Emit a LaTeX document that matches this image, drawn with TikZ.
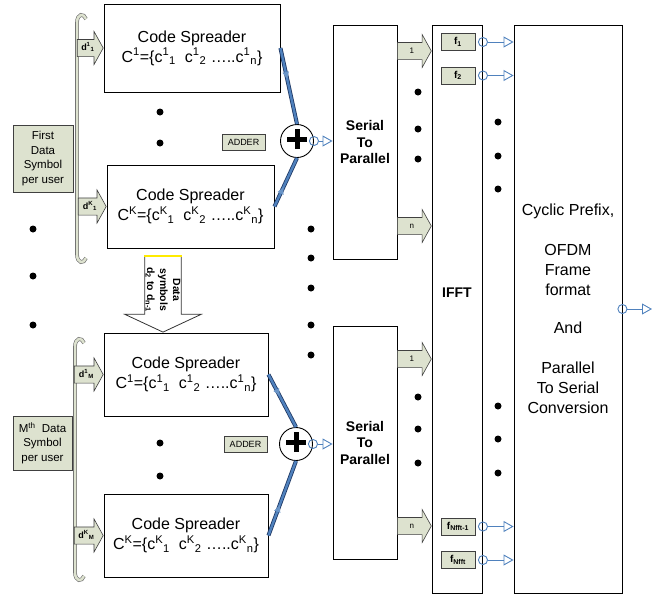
\documentclass[tikz,border=0pt]{standalone}
\usepackage{fontspec}
\setmainfont{Liberation Sans}
\usepackage{xcolor}
\usetikzlibrary{shapes.arrows,arrows.meta,decorations.markings}

\definecolor{tagfill}{RGB}{221,226,207}
\definecolor{linkblue}{RGB}{79,129,189}
\definecolor{linkedge}{RGB}{31,56,100}
\definecolor{rimyellow}{RGB}{255,235,0}

\newcommand\chip[2]{c\textsuperscript{#1}\textsubscript{#2}}

\tikzset{
  spreader/.style={draw, line width=0.9pt, fill=white, align=center,
    font=\fontsize{16}{20}\selectfont},
  tagbox/.style={draw=black!75, fill=tagfill, line width=0.7pt, align=center, inner sep=1pt},
  fatarrow/.style={single arrow, draw=black!75, fill=tagfill, line width=0.6pt,
    single arrow head extend=8pt, single arrow tip angle=122,
    text height=8pt, text depth=2.5pt, inner ysep=3pt, inner xsep=2pt,
    font=\fontsize{8}{9}\selectfont},
  dlabel/.style={font=\bfseries\fontsize{9}{10}\selectfont},
  blob/.style={circle, fill, inner sep=0pt, minimum size=7pt},
  adder/.style={circle, draw, fill=white, line width=0.9pt, minimum size=33pt, inner sep=0pt,
    path picture={\draw[line width=5pt]
      ([xshift=-10pt,yshift=2pt]path picture bounding box.center) -- ([xshift=10pt,yshift=2pt]path picture bounding box.center)
      ([yshift=-8pt]path picture bounding box.center) -- ([yshift=12pt]path picture bounding box.center);}},
  sumlink/.style={draw=linkedge, line width=0.8pt, double=linkblue, double distance=2.4pt,
    postaction={decorate, decoration={markings,
      mark=at position 0.42 with {\arrow[linkblue!85!white]{Latex[length=8pt,width=7pt]}}}}},
  sigout/.style={linkblue, line width=0.9pt, shorten <=-5pt,
    {Circle[open,length=10pt,width=10pt]}-{Triangle[open,length=10pt,width=11pt]}},
  brace/.style={draw=black!60, line width=0.6pt, double=tagfill, double distance=2.5pt},
  bigbox/.style={draw, line width=0.9pt, align=center}
}

\begin{document}
\begin{tikzpicture}[x=1pt, y=-1pt]
  \useasboundingbox (0,0) rectangle (667,595);

  \node[spreader, minimum width=176pt, minimum height=88pt] (cs1) at (192,48)
    {Code Spreader\\C\textsuperscript{1}=\{\chip{1}{1}\ \ \chip{1}{2} …..\chip{1}{n}\}};
  \node[spreader, minimum width=167pt, minimum height=83pt] (cs2) at (190.5,206.5)
    {Code Spreader\\C\textsuperscript{K}=\{\chip{K}{1}\ \ \chip{K}{2} …..\chip{K}{n}\}};
  \node[spreader, minimum width=164pt, minimum height=83pt] (cs3) at (186,374.5)
    {Code Spreader\\C\textsuperscript{1}=\{\chip{1}{1}\ \ \chip{1}{2} …..\chip{1}{n}\}};
  \node[spreader, minimum width=164pt, minimum height=83pt] (cs4) at (186,535.5)
    {Code Spreader\\C\textsuperscript{K}=\{\chip{K}{1}\ \ \chip{K}{2} …..\chip{K}{n}\}};

  \node[tagbox, minimum width=60pt, minimum height=67pt, font=\fontsize{11.5}{14.5}\selectfont]
    (user1) at (43,158.5) {First\\Data\\Symbol\\per user};
  \node[tagbox, minimum width=59pt, minimum height=54pt, font=\fontsize{11.5}{14.5}\selectfont]
    (userM) at (42.5,443) {M\textsuperscript{th}\ \ Data\\Symbol\\per user};

  \draw[brace] (86,19) .. controls (84,13) and (77,13) .. (77,23) -- (77,254)
    .. controls (77,264) and (84,264) .. (86,258);
  \draw[brace] (84,343) .. controls (82,337) and (75,337) .. (75,347) -- (75,572)
    .. controls (75,582) and (82,582) .. (84,576);

  \node[fatarrow, dlabel, anchor=tip, minimum height=26pt] (d11) at (cs1.west) {d\textsuperscript{1}\textsubscript{1}};
  \node[fatarrow, dlabel, anchor=tip, minimum height=28pt] (dK1) at (cs2.west) {d\textsuperscript{K}\textsubscript{1}};
  \node[fatarrow, dlabel, anchor=tip, minimum height=29pt] (d1M) at (cs3.west) {d\textsuperscript{1}\textsubscript{M}};
  \node[fatarrow, dlabel, anchor=tip, minimum height=29pt] (dKM) at (cs4.west) {d\textsuperscript{K}\textsubscript{M}};

  \node[single arrow, draw=black!80, fill=white, rotate=-90, line width=0.8pt,
    minimum height=76pt, single arrow head extend=20pt, single arrow tip angle=130,
    inner ysep=0.5pt, inner xsep=1pt, align=center, anchor=tip,
    font=\bfseries\fontsize{10.5}{13}\selectfont] (spill) at (cs3.north -| 163,0)
    {Data\\symbols\\d\textsubscript{2} to d\textsubscript{n-1}};
  \draw[rimyellow, line width=2pt] (spill.before tail) -- (spill.after tail);

  \node[adder] (add1) at (297,141) {};
  \node[adder] (add2) at (296,444) {};
  \node[tagbox, minimum width=43pt, minimum height=16pt, font=\fontsize{9}{10}\selectfont] (sum1) at (243.5,142) {ADDER};
  \node[tagbox, minimum width=43pt, minimum height=16pt, font=\fontsize{9}{10}\selectfont] (sum2) at (245.5,444) {ADDER};

  \draw[sumlink] (cs1.east) -- (add1.north);
  \draw[sumlink] (cs2.east) -- (add1.south);
  \draw[sumlink] (cs3.east) -- (add2.north);
  \draw[sumlink] (cs4.east) -- (add2.south);

  \node[bigbox, minimum width=64pt, minimum height=234pt, font=\bfseries\fontsize{14}{16.5}\selectfont]
    (sp1) at (365,142) {Serial\\To\\Parallel};
  \node[bigbox, minimum width=64pt, minimum height=233pt, font=\bfseries\fontsize{14}{16.5}\selectfont]
    (sp2) at (365,442.5) {Serial\\To\\Parallel};
  \draw[sigout] (add1.east) -- (add1 -| sp1.west);
  \draw[sigout] (add2.east) -- (add2 -| sp2.west);

  \node[fatarrow, anchor=tail, minimum height=34pt] (p1a) at (397,51) {1};
  \node[fatarrow, anchor=tail, minimum height=34pt] (p1n) at (397,226) {n};
  \node[fatarrow, anchor=tail, minimum height=34pt] (p2a) at (397,359) {1};
  \node[fatarrow, anchor=tail, minimum height=34pt] (p2n) at (397,526) {n};

  \node[bigbox, minimum width=50pt, minimum height=568pt] (ifft) at (457.5,309) {};
  \node[font=\bfseries\fontsize{14}{16}\selectfont] (iffttext) at (457,293) {IFFT};
  \node[tagbox, minimum width=34pt, minimum height=17pt, font=\bfseries\fontsize{10}{11}\selectfont] (f1) at (458,42) {f\textsubscript{1}};
  \node[tagbox, minimum width=34pt, minimum height=17pt, font=\bfseries\fontsize{10}{11}\selectfont] (f2) at (458,75.5) {f\textsubscript{2}};
  \node[tagbox, minimum width=34pt, minimum height=17pt, font=\bfseries\fontsize{10}{11}\selectfont] (fN1) at (458,526.5) {f\textsubscript{Nfft-1}};
  \node[tagbox, minimum width=34pt, minimum height=17pt, font=\bfseries\fontsize{10}{11}\selectfont] (fN) at (458,560) {f\textsubscript{Nfft}};

  \node[bigbox, minimum width=108pt, minimum height=568pt, font=\fontsize{16}{20}\selectfont] (cp) at (568,309)
    {Cyclic Prefix,\\[20pt]OFDM\\Frame\\format\\[18pt]And\\[20pt]Parallel\\To Serial\\Conversion};

  \foreach \f in {f1,f2,fN1,fN}
    \draw[sigout] (ifft.east |- \f) -- (cp.west |- \f);
  \coordinate (out) at (652,309);
  \draw[sigout] (cp.east) -- (out);

  \foreach \y in {229,276,325} \node[blob] (left\y) at (33,\y) {};
  \foreach \y in {112,143,443,476} \node[blob] (mid\y) at (160,\y) {};
  \foreach \y in {229,258,288,325,355} \node[blob] (gap\y) at (311,\y) {};
  \foreach \y in {92,129,159,397,429,463} \node[blob] (par\y) at (418,\y) {};
  \foreach \y in {122,156,189,406,439,473} \node[blob] (sub\y) at (498,\y) {};
\end{tikzpicture}
\end{document}
